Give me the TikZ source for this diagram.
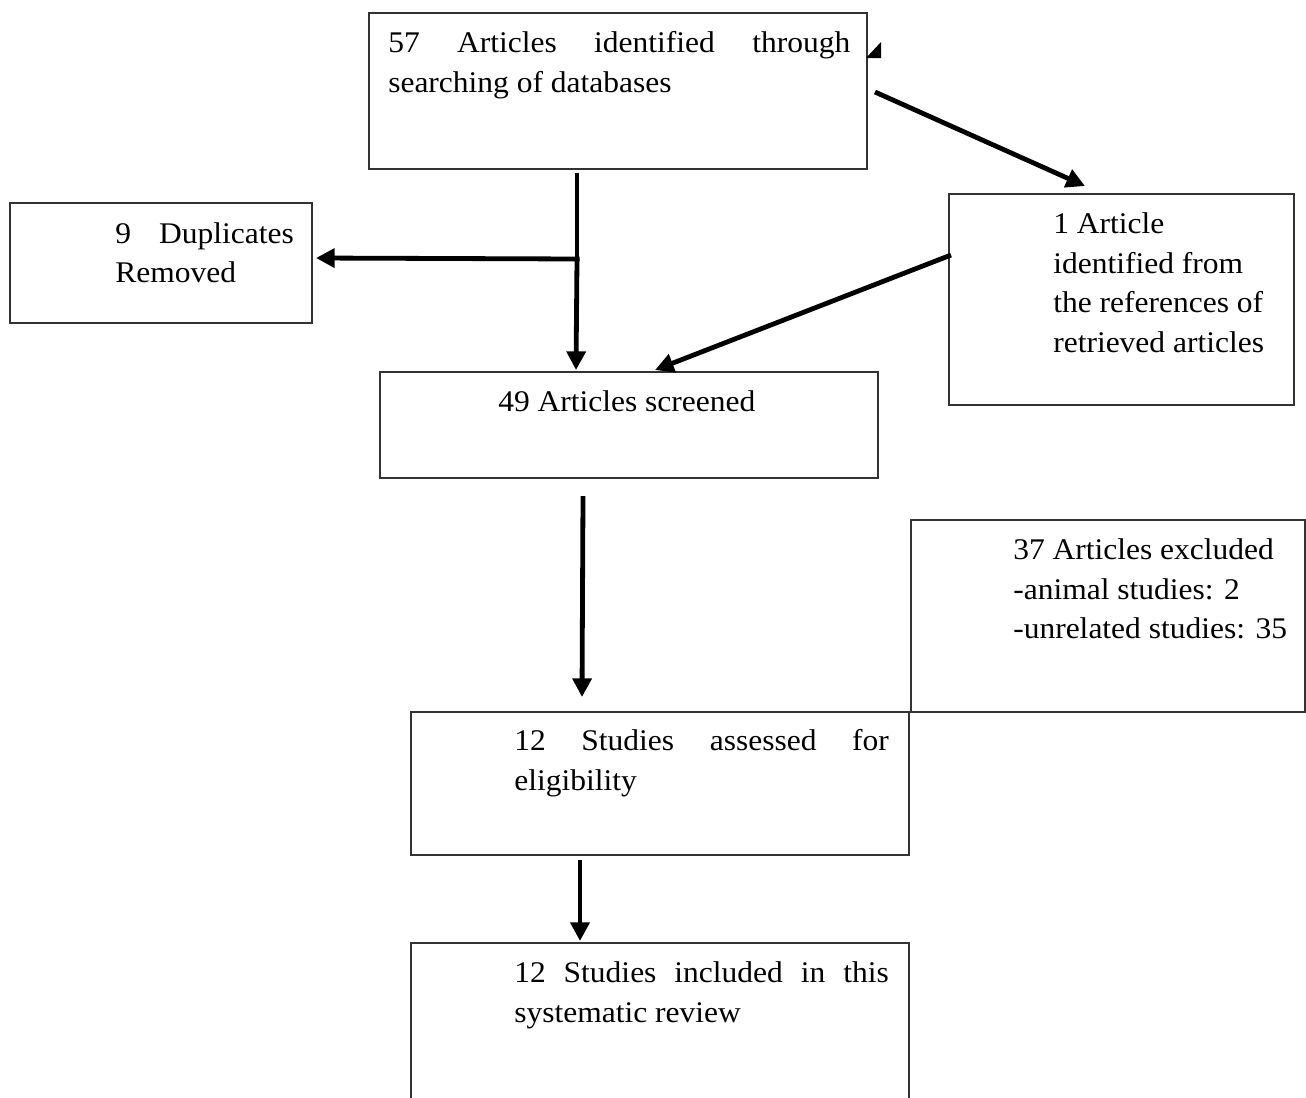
\documentclass[tikz,border=0pt]{standalone}
\usepackage{fontspec}
\setmainfont[FakeStretch=1.05]{Liberation Serif}
\usetikzlibrary{arrows.meta}
\tikzset{
  box/.style={draw=black!80, line width=1.1pt},
  txt/.style={anchor=base west, inner sep=0pt, font=\fontsize{22.5pt}{30pt}\selectfont},
  flow/.style={line width=3.6pt, -{Triangle[length=14pt,width=14pt]}}
}
\begin{document}
\begin{tikzpicture}[x=0.75pt,y=-0.75pt]
\useasboundingbox (0,0) rectangle (1306,1097);
\begin{scope}
\clip (0,0) rectangle (1306,1097);
% boxes
\draw[box] (369,13) rectangle (867,169);
\coordinate (topA) at (875,92);
\coordinate (topB) at (577,173);
\draw[box] (10,203) rectangle (312,323);
\coordinate (dupE) at (316,258);
\draw[box] (949,194) rectangle (1294,405);
\coordinate (refN) at (1085,186);
\coordinate (refW) at (951,255);
\draw[box] (380,372) rectangle (878,478);
\coordinate (scrN) at (576,370);
\coordinate (scrNE) at (655,370);
\coordinate (scrS) at (583,496);
\draw[box] (911,520) rectangle (1305,712);
\draw[box] (411,712) rectangle (909,855);
\coordinate (eliN) at (582,697);
\coordinate (eliS) at (580,860);
\draw[box] (411,943) rectangle (909,1110);
\coordinate (incN) at (580,941);
\coordinate (split) at (577,259);
% texts
\node[txt] (t1a) at (388,52) {\makebox[346.5pt][s]{57 Articles identified through}};
\node[txt] (t1b) at (388,92) {searching of databases};
\node[txt] (t2a) at (115,243) {\makebox[134pt][s]{9 Duplicates}};
\node[txt] (t2b) at (115,282) {Removed};
\node[txt] (t3a) at (1053,233) {1 Article};
\node[txt] (t3b) at (1053,273) {identified from};
\node[txt] (t3c) at (1053,312) {the references of};
\node[txt] (t3d) at (1053,352) {retrieved articles};
\node[txt] (t4) at (498,411) {49 Articles screened};
\node[txt] (t5a) at (1013,559) {37 Articles excluded};
\node[txt] (t5b) at (1013,599) {-animal studies: 2};
\node[txt] (t5c) at (1013,638) {-unrelated studies: 35};
\node[txt] (t6a) at (514,750) {\makebox[281pt][s]{12 Studies assessed for}};
\node[txt] (t6b) at (514,790) {eligibility};
\node[txt] (t7a) at (514,982) {\makebox[281pt][s]{12 Studies included in this}};
\node[txt] (t7b) at (514,1022) {systematic review};
% connectors
\draw[flow] (topA) -- (refN);
\draw[line width=3.6pt] (topB) -- (split);
\draw[flow] (split) -- (scrN);
\draw[flow] ([xshift=2pt]split) -- (dupE);
\draw[flow] (refW) -- (scrNE);
\draw[flow] (scrS) -- (eliN);
\draw[flow] (eliS) -- (incN);
% stray arrowhead at top box corner
\fill (866,58) -- (881,58) -- (881,42) -- cycle;
\end{scope}
\end{tikzpicture}
\end{document}
